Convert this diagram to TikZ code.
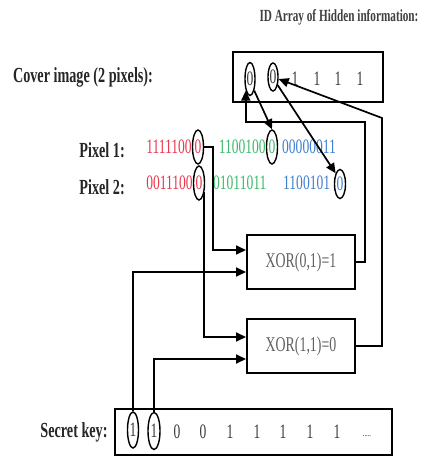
\documentclass[tikz,border=0pt]{standalone}
\usepackage{fontspec}
\setmainfont{Liberation Serif}
\newfontfamily\narrowfont[FakeStretch=0.66]{Liberation Serif}
\usetikzlibrary{calc}
\usetikzlibrary{arrows.meta}
\usetikzlibrary{shapes.geometric,positioning}
\definecolor{pxred}{HTML}{E8384F}
\definecolor{pxgreen}{HTML}{3DB86B}
\definecolor{pxblue}{HTML}{3F7FD0}
\definecolor{ink}{HTML}{3A3A3A}

\begin{document}
\begin{tikzpicture}[
    x=1pt, y=-1pt,
    >={Triangle[length=10pt, width=9pt]},
    lbl/.style={inner sep=0pt, text=black!85,
                font=\narrowfont\fontsize{21.5}{24}\selectfont\bfseries},
    bits/.style={inner sep=0pt, text=ink,
                 font=\narrowfont\fontsize{20.5}{22}\selectfont},
    oval/.style={ellipse, draw, line width=1.4pt, inner sep=0pt,
                 minimum width=11pt, minimum height=34pt, bits},
    framebox/.style={draw, line width=2pt, inner sep=0pt},
    xorbox/.style={framebox, minimum width=108pt, minimum height=54pt,
                   font=\narrowfont\fontsize{21}{22}\selectfont, text=ink!80},
    wire/.style={line width=1.7pt},
    arr/.style={wire, ->},
]

\def\ra{147}   % row of pixel 1
\def\rb{183}   % row of pixel 2

\fill[white] (0,0) rectangle (425,462);
\useasboundingbox (0,0) rectangle (425,462);

% ── ID array of hidden information ──
\node[lbl, font=\narrowfont\fontsize{17}{20}\selectfont\bfseries, text=black!75]
    (title) at (339,17) {ID Array of Hidden information:};
\node[lbl] (cover) at (83,77) {Cover image (2 pixels):};
\node[framebox, minimum width=150pt, minimum height=50pt] (idbox) at (308,77) {};
\node[oval, minimum width=10pt, minimum height=33pt] (id1) at (250,79) {0};
\node[oval, minimum width=10pt, minimum height=28pt] (id2) at (273,77) {0};
\foreach \x [count=\i] in {295,317,338,360}
    \node[bits] (idb\i) at (\x,79) {1};

% ── Pixels of the cover image ──
\node[lbl, anchor=east] (pix1) at (125,150) {Pixel 1:};
\node[oval, text=pxred] (p1r) at (198,\ra) {0};
\node[bits, text=pxred, anchor=east] (p1rb) at (p1r.west) {1111100};
\node[oval, text=pxgreen] (p1g) at (272,\ra) {0};
\node[bits, text=pxgreen, anchor=east] (p1gb) at (p1g.west) {1100100};
\node[bits, text=pxblue, anchor=west] (p1bb) at (282,\ra) {00000011};

\node[lbl, anchor=east] (pix2) at (125,187) {Pixel 2:};
\node[oval, text=pxred] (p2r) at (199,\rb) {0};
\node[bits, text=pxred, anchor=east] (p2rb) at (p2r.west) {0011100};
\node[bits, text=pxgreen, anchor=west] (p2gb) at (213,\rb) {01011011};
\node[bits, text=pxblue, anchor=west] (p2bb) at (283,\rb) {1100101};
\node[oval, text=pxblue, minimum height=29pt] (p2b) at (340,184) {0};

% ── XOR gates ──
\node[xorbox] (xor1) at (301,262) {XOR(0,1)=1};
\node[xorbox] (xor2) at (301,346) {XOR(1,1)=0};

% ── Secret key ──
\node[lbl] (keylbl) at (74,432) {Secret key:};
\node[framebox, minimum width=277pt, minimum height=46pt] (keybox) at (253.5,432) {};
\node[oval, minimum height=36pt] (k1) at (133,430) {1};
\node[oval, minimum width=12pt, minimum height=37pt] (k2) at (154,431) {1};
\foreach \x/\b [count=\i] in {177/0,203/0,230/1,257/1,283/1,310/1,337/1}
    \node[bits] (kb\i) at (\x,432) {\b};
\node[bits, font=\narrowfont\fontsize{10}{12}\selectfont] (kdots) at (367,436) {.....};

% inputs of the gates
\draw[arr] (p1r.east) -- ++(9,0) |- ($(xor1.west)+(0,-12)$);
\draw[arr] (k1.north) |- ($(xor1.west)+(0,10)$);
\draw[arr] (p2r.-60) |- ($(xor2.west)+(0,-9)$);
\draw[arr] (k2.north) |- ($(xor2.west)+(0,13)$);

% outputs back into the ID array
\coordinate (bend1) at (365,122);
\coordinate (bend2) at (382,118);
\draw[arr] (xor1.east) -| (bend1) -| (id1.250);
\draw[arr] (xor2.east) -| (bend2) -- (id2.-20);

% hidden bits into the LSBs
\draw[arr] (id1.-70) -- (p1g.north);
\draw[arr] (id2.-60) -- (p2b.north west);

\end{tikzpicture}
\end{document}
